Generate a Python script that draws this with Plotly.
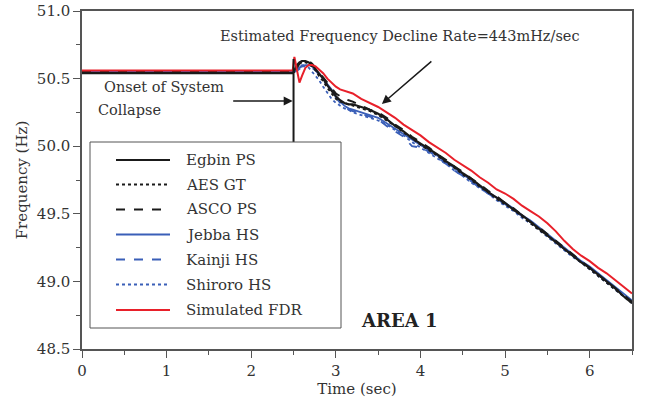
import plotly.graph_objects as go

time_s = [0.0, 0.5, 1.0, 1.5, 2.0, 2.49, 2.51, 2.54, 2.57, 2.60, 2.64, 2.68, 2.72, 2.76, 2.80,
          2.85, 2.90, 2.95, 3.00, 3.05, 3.10, 3.15, 3.20, 3.30, 3.40,
          3.50, 3.60, 3.70, 3.80, 3.90, 4.00, 4.10, 4.20, 4.30, 4.40, 4.50, 4.60, 4.70, 4.80, 4.90,
          5.00, 5.10, 5.20, 5.30, 5.40, 5.50, 5.60, 5.70, 5.80, 5.90, 6.00, 6.10, 6.20, 6.30, 6.40, 6.50]

egbin = [50.54, 50.54, 50.54, 50.54, 50.54, 50.54, 50.56, 50.60, 50.62, 50.63, 50.63, 50.62, 50.60, 50.57, 50.54,
         50.50, 50.45, 50.41, 50.37, 50.34, 50.32, 50.31, 50.31, 50.29, 50.27,
         50.24, 50.20, 50.15, 50.11, 50.06, 50.02, 49.98, 49.94, 49.89, 49.85, 49.80, 49.76, 49.71, 49.66, 49.62,
         49.58, 49.53, 49.49, 49.44, 49.39, 49.34, 49.29, 49.24, 49.19, 49.14, 49.10, 49.05, 49.00, 48.95, 48.89, 48.84]

aes = [50.54, 50.54, 50.54, 50.54, 50.54, 50.54, 50.55, 50.59, 50.61, 50.62, 50.62, 50.61, 50.59, 50.56, 50.52,
       50.48, 50.43, 50.39, 50.35, 50.33, 50.32, 50.31, 50.30, 50.28, 50.26,
       50.23, 50.19, 50.15, 50.10, 50.06, 50.01, 49.97, 49.93, 49.88, 49.84, 49.79, 49.75, 49.70, 49.66, 49.61,
       49.57, 49.53, 49.48, 49.43, 49.38, 49.34, 49.29, 49.24, 49.19, 49.14, 49.09, 49.04, 48.99, 48.94, 48.89, 48.84]

asco = [50.55, 50.55, 50.55, 50.55, 50.55, 50.55, 50.56, 50.58, 50.61, 50.63, 50.64, 50.63, 50.61, 50.58, 50.55,
        50.51, 50.47, 50.43, 50.39, 50.37, 50.35, 50.34, 50.33, 50.30, 50.27,
        50.25, 50.21, 50.16, 50.12, 50.07, 50.03, 49.99, 49.94, 49.90, 49.85, 49.81, 49.76, 49.72, 49.67, 49.63,
        49.58, 49.54, 49.49, 49.44, 49.40, 49.35, 49.30, 49.25, 49.20, 49.15, 49.10, 49.05, 49.00, 48.95, 48.90, 48.85]

jebba = [50.55, 50.55, 50.55, 50.55, 50.55, 50.55, 50.55, 50.56, 50.58, 50.59, 50.60, 50.60, 50.59, 50.57, 50.54,
         50.50, 50.46, 50.42, 50.37, 50.33, 50.30, 50.28, 50.27, 50.25, 50.23,
         50.21, 50.17, 50.13, 50.09, 50.05, 50.01, 49.97, 49.93, 49.88, 49.84, 49.79, 49.75, 49.70, 49.66, 49.62,
         49.58, 49.54, 49.49, 49.45, 49.40, 49.35, 49.30, 49.25, 49.20, 49.15, 49.11, 49.06, 49.01, 48.96, 48.91, 48.86]

kainji = [50.55, 50.55, 50.55, 50.55, 50.55, 50.55, 50.55, 50.57, 50.58, 50.60, 50.60, 50.59, 50.58, 50.56, 50.53,
          50.49, 50.45, 50.41, 50.36, 50.32, 50.29, 50.27, 50.26, 50.24, 50.22,
          50.20, 50.15, 50.11, 50.07, 50.00, 49.99, 49.96, 49.92, 49.87, 49.82, 49.78, 49.74, 49.69, 49.65, 49.61,
          49.57, 49.53, 49.48, 49.44, 49.39, 49.34, 49.29, 49.24, 49.19, 49.15, 49.10, 49.05, 49.00, 48.95, 48.90, 48.85]

shiroro = [50.55, 50.55, 50.55, 50.55, 50.55, 50.55, 50.55, 50.56, 50.57, 50.59, 50.59, 50.58, 50.55, 50.52, 50.49,
           50.44, 50.39, 50.35, 50.32, 50.30, 50.28, 50.27, 50.25, 50.23, 50.21,
           50.19, 50.16, 50.12, 50.08, 50.03, 49.99, 49.95, 49.91, 49.87, 49.82, 49.78, 49.73, 49.69, 49.65, 49.60,
           49.56, 49.52, 49.47, 49.43, 49.38, 49.33, 49.28, 49.23, 49.18, 49.14, 49.09, 49.04, 48.99, 48.94, 48.89, 48.84]

sim_fdr = [50.56, 50.56, 50.56, 50.56, 50.56, 50.56, 50.66, 50.55, 50.47, 50.52, 50.58, 50.60, 50.60, 50.59, 50.57,
           50.54, 50.50, 50.47, 50.44, 50.42, 50.41, 50.40, 50.39, 50.35, 50.32,
           50.29, 50.25, 50.21, 50.16, 50.12, 50.08, 50.03, 49.99, 49.95, 49.90, 49.86, 49.82, 49.77, 49.73, 49.68,
           49.65, 49.61, 49.56, 49.52, 49.48, 49.43, 49.37, 49.30, 49.24, 49.19, 49.15, 49.10, 49.06, 49.01, 48.96, 48.91]

names = ["Egbin PS", "AES GT", "ASCO PS", "Jebba HS", "Kainji HS", "Shiroro HS", "Simulated FDR"]
series = [egbin, aes, asco, jebba, kainji, shiroro, sim_fdr]

BLACK = "#1a1a1a"
BLUE = "#3a5fb8"
RED = "#e8202a"
styles = [
    dict(color=BLACK, width=2.2, dash="solid"),
    dict(color=BLACK, width=1.8, dash="dot"),
    dict(color=BLACK, width=2.0, dash="dash"),
    dict(color=BLUE, width=1.8, dash="solid"),
    dict(color=BLUE, width=1.8, dash="dash"),
    dict(color=BLUE, width=1.8, dash="dot"),
    dict(color=RED, width=2.0, dash="solid"),
]

FONT = "DejaVu Serif"
TXT = "#333333"

fig = go.Figure()
order = [3, 4, 5, 1, 2, 0, 6]
for i in order:
    fig.add_trace(go.Scatter(x=time_s, y=series[i], mode="lines", name=names[i],
                             line=styles[i], showlegend=False))

L, R, T, B = 82, 632, 11, 349   # plot-area edges in pixels
def px(xp):
    return (xp - L) / (R - L)
def py(yp):
    return (B - yp) / (B - T)

shapes = []
# onset vertical line
shapes.append(dict(type="line", xref="x", yref="y", x0=2.5, x1=2.5, y0=50.645, y1=49.9,
                   line=dict(color=BLACK, width=2), layer="above"))
# legend box
shapes.append(dict(type="rect", xref="paper", yref="paper", x0=px(90), x1=px(341), y0=py(328), y1=py(142),
                   line=dict(color="#555555", width=1), fillcolor="white", layer="above"))
row_y = [160, 184.5, 209.5, 234.5, 259.5, 284.5, 310]
annotations = []
for k, name in enumerate(names):
    st = styles[k]
    shapes.append(dict(type="line", xref="paper", yref="paper", x0=px(116), x1=px(170),
                       y0=py(row_y[k]), y1=py(row_y[k]),
                       line=dict(color=st["color"], width=st["width"], dash=st["dash"]), layer="above"))
    annotations.append(dict(text=name, xref="paper", yref="paper", x=px(184), y=py(row_y[k]),
                            xanchor="left", yanchor="middle", showarrow=False,
                            font=dict(family=FONT, size=15, color=TXT)))

annotations += [
    dict(text="Estimated Frequency Decline Rate=443mHz/sec", xref="paper", yref="paper",
         x=px(400), y=py(36), xanchor="center", yanchor="middle", showarrow=False,
         font=dict(family=FONT, size=14.5, color=TXT)),
    dict(text="", x=3.544, y=50.312, xref="x", yref="y", ax=51, ay=-44, showarrow=True,
         arrowhead=2, arrowsize=1.2, arrowwidth=1.5, arrowcolor=BLACK),
    dict(text="", x=2.49, y=50.334, xref="x", yref="y", ax=-61, ay=0, showarrow=True,
         arrowhead=2, arrowsize=1.2, arrowwidth=1.5, arrowcolor=BLACK),
    dict(text="Onset of System", xref="paper", yref="paper", x=px(102), y=py(87),
         xanchor="left", yanchor="middle", showarrow=False, font=dict(family=FONT, size=14.5, color=TXT)),
    dict(text="Collapse", xref="paper", yref="paper", x=px(96), y=py(110),
         xanchor="left", yanchor="middle", showarrow=False, font=dict(family=FONT, size=14.5, color=TXT)),
    dict(text="<b>AREA 1</b>", xref="paper", yref="paper", x=px(359), y=py(320),
         xanchor="left", yanchor="middle", showarrow=False, font=dict(family=FONT, size=18, color="#222222")),
]

axis_common = dict(showline=True, linecolor="#555555", linewidth=1.5, mirror=True,
                   ticks="outside", ticklen=7, tickwidth=1.3, tickcolor="#555555",
                   showgrid=False, zeroline=False, automargin=False,
                   tickfont=dict(family=FONT, size=15, color=TXT))

fig.update_layout(
    width=646, height=405,
    margin=dict(l=L, r=646 - R, t=T, b=405 - B, autoexpand=False),
    paper_bgcolor="white", plot_bgcolor="white",
    shapes=shapes, annotations=annotations,
    xaxis=dict(range=[0, 6.5], dtick=1, tick0=0,
               minor=dict(dtick=0.5, ticks="outside", ticklen=4, tickcolor="#555555", tickwidth=1.2),
               title=dict(text="Time (sec)", font=dict(family=FONT, size=15, color=TXT), standoff=4),
               **axis_common),
    yaxis=dict(range=[48.5, 51.0], dtick=0.5, tick0=48.5, tickformat=".1f",
               minor=dict(dtick=0.25, ticks="outside", ticklen=4, tickcolor="#555555", tickwidth=1.2),
               title=dict(text="Frequency (Hz)", font=dict(family=FONT, size=15, color=TXT), standoff=6),
               **axis_common),
)

fig.write_html("out.html", config={"displayModeBar": False},
               post_script="document.body.style.margin='0';")
